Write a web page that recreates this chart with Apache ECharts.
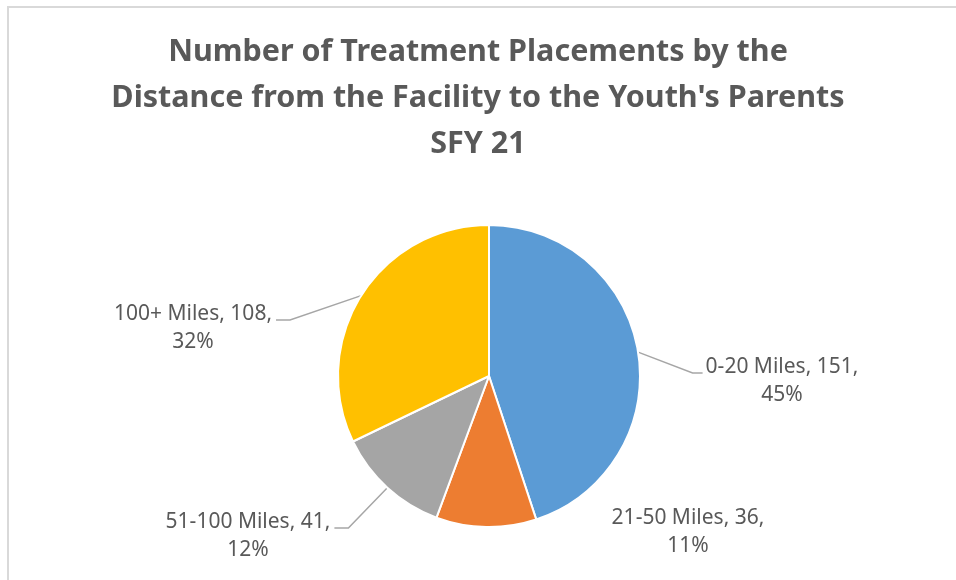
<!DOCTYPE html>
<html>
<head>
<meta charset="utf-8">
<script src="https://cdn.jsdelivr.net/npm/echarts@6/dist/echarts.min.js"></script>
<style>
  html, body { margin: 0; padding: 0; background: #fff; }
  #chart { width: 956px; height: 580px; }
</style>
</head>
<body>
<div id="chart"></div>
<script>
const categories = ['0-20 Miles', '21-50 Miles', '51-100 Miles', '100+ Miles'];
const placements = [151, 36, 41, 108];
const percents = ['45%', '11%', '12%', '32%'];
const colors = ['#5B9BD5', '#ED7D31', '#A5A5A5', '#FFC000'];

// where each label block is centred, and which side its leader line comes from
const labelPos = [[782, 381], [688, 532], [248, 536], [193, 328]];
const labelSide = ['right', 'none', 'left', 'left'];

const chart = echarts.init(document.getElementById('chart'));

const option = {
  animation: false,
  title: {
    text: 'Number of Treatment Placements by the\nDistance from the Facility to the Youth\'s Parents\nSFY 21',
    left: 'center',
    top: 24,
    textStyle: {
      fontFamily: 'Noto Sans',
      fontWeight: 'bold',
      fontSize: 30.5,
      lineHeight: 46,
      color: '#595959'
    }
  },
  graphic: [{
    type: 'rect',
    shape: { x: 8, y: 7, width: 1000, height: 1000 },
    style: { fill: 'none', stroke: '#d9d9d9', lineWidth: 2 },
    silent: true
  }],
  series: [{
    type: 'pie',
    center: [489, 376],
    radius: 151,
    startAngle: 90,
    clockwise: true,
    avoidLabelOverlap: false,
    emphasis: { disabled: true },
    itemStyle: { borderColor: '#fff', borderWidth: 2 },
    label: {
      show: true,
      position: 'outside',
      fontFamily: 'Noto Sans',
      fontSize: 21,
      lineHeight: 28,
      color: '#595959'
    },
    labelLine: {
      show: true,
      lineStyle: { color: '#a6a6a6', width: 1.5 }
    },
    labelLayout: function (params) {
      const i = params.dataIndex;
      const p = labelPos[i];
      const w = params.labelRect.width;
      const h = params.labelRect.height;
      const res = { x: p[0], y: p[1], align: 'center', verticalAlign: 'middle' };
      const lineY = p[1] - h / 4 + 6;
      const start = params.labelLinePoints ? params.labelLinePoints[0] : null;
      if (start && labelSide[i] === 'right') {
        const endX = p[0] - w / 2 - 3;
        res.labelLinePoints = [start, [endX - 10, lineY], [endX, lineY]];
      } else if (start && labelSide[i] === 'left') {
        const endX = p[0] + w / 2 + 4;
        res.labelLinePoints = [start, [endX + 14, lineY], [endX, lineY]];
      }
      return res;
    },
    data: categories.map(function (c, i) {
      const item = {
        name: c,
        value: placements[i],
        itemStyle: { color: colors[i] },
        label: { formatter: c + ', ' + placements[i] + ',\n' + percents[i] }
      };
      if (labelSide[i] === 'none') item.labelLine = { show: false };
      return item;
    })
  }]
};

chart.setOption(option);
</script>
</body>
</html>
